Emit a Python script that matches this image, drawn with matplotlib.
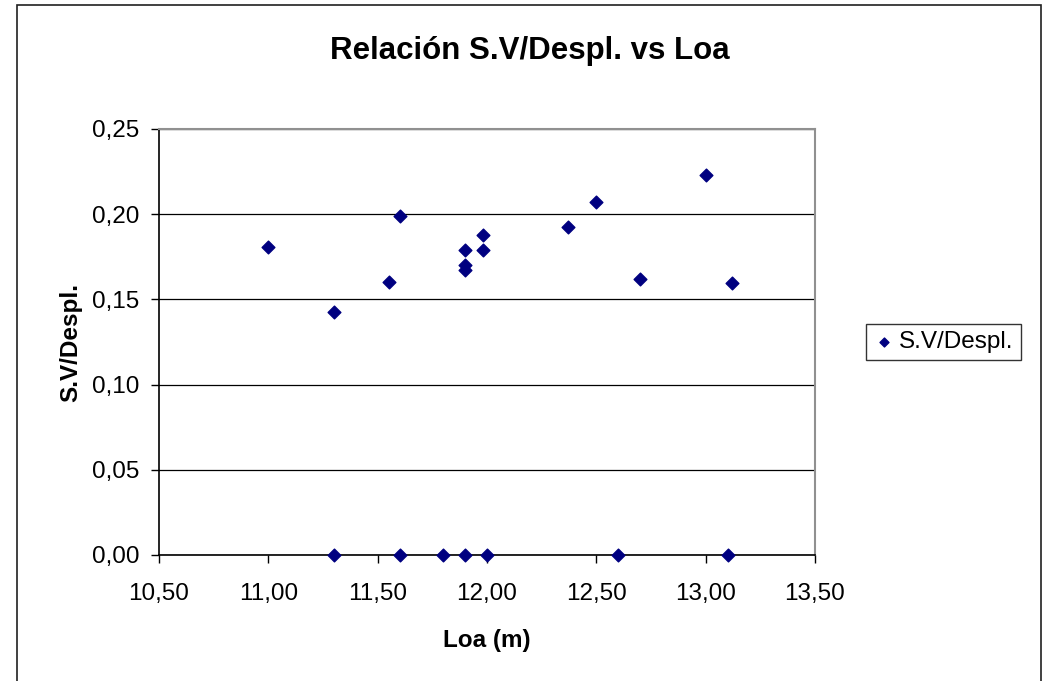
import numpy as np
import matplotlib
matplotlib.use('Agg')
import matplotlib.pyplot as plt
from matplotlib.ticker import FuncFormatter, MultipleLocator
from matplotlib.patches import Rectangle

plt.rcParams['font.family'] = ['Liberation Sans', 'DejaVu Sans']

# Loa (m) and S.V/Despl.
loa = [11.00, 11.30, 11.60, 11.55, 11.90, 11.90, 11.90, 11.98, 11.98,
       12.37, 12.50, 12.70, 13.00, 13.12,
       11.30, 11.60, 11.80, 11.90, 12.00, 12.60, 13.10]
sv_despl = [0.181, 0.1426, 0.199, 0.1604, 0.1788, 0.1704, 0.1674, 0.188, 0.1792,
            0.1925, 0.2069, 0.162, 0.2232, 0.1596,
            0, 0, 0, 0, 0, 0, 0]

W, H = 1042, 681
fig = plt.figure(figsize=(W / 100, H / 100), dpi=100)
ax = fig.add_axes([159 / W, 1 - 555 / H, (815 - 159) / W, (555 - 129) / H])

# outer chart border (runs off the right and bottom edges)
fig.patches.append(Rectangle((17 / W, -0.02), (1041 - 17) / W, 1.02 - 4.5 / H,
                             transform=fig.transFigure, fill=False,
                             edgecolor='#202020', linewidth=1.2))

ax.scatter(loa, sv_despl, marker='D', s=42, color='#000080', zorder=3,
           clip_on=False, label='S.V/Despl.')

ax.set_xlim(10.5, 13.5)
ax.set_ylim(0, 0.25)
ax.xaxis.set_major_locator(MultipleLocator(0.5))
ax.yaxis.set_major_locator(MultipleLocator(0.05))
comma = FuncFormatter(lambda v, p: f'{v:.2f}'.replace('.', ','))
ax.xaxis.set_major_formatter(comma)
ax.yaxis.set_major_formatter(comma)
ax.grid(axis='y', color='black', linewidth=0.9)
ax.set_axisbelow(True)

for s in ['top', 'right']:
    ax.spines[s].set_color('#909090')
    ax.spines[s].set_linewidth(1.5)
for s in ['left', 'bottom']:
    ax.spines[s].set_color('black')
    ax.spines[s].set_linewidth(1.2)

ax.tick_params(direction='out', length=6, width=1, labelsize=17.5)
ax.tick_params(axis='y', pad=8)
ax.tick_params(axis='x', pad=14)

fig.text(487 / W, 1 - 647 / H, 'Loa (m)', ha='center', va='baseline',
         fontsize=17.5, fontweight='bold')
fig.text(71 / W, 1 - 342 / H, 'S.V/Despl.', ha='center', va='center',
         rotation=90, fontsize=17.5, fontweight='bold')
fig.text(530 / W, 1 - 59 / H, 'Relación S.V/Despl. vs Loa', ha='center',
         va='baseline', fontsize=22.5, fontweight='bold')

leg = ax.legend(loc='center left', bbox_to_anchor=(866 / W, 1 - 342 / H),
                bbox_transform=fig.transFigure, fontsize=17.5, frameon=True,
                fancybox=False, edgecolor='black', handletextpad=0.15,
                borderpad=0.3, borderaxespad=0, handlelength=0.9,
                markerscale=0.7)
leg.get_frame().set_linewidth(1.0)

fig.savefig('out.png', dpi=100)
